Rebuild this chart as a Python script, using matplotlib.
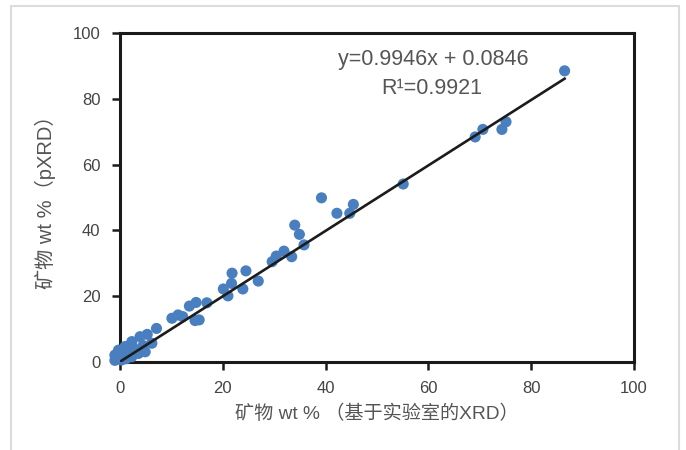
import matplotlib
matplotlib.use("Agg")
import matplotlib.pyplot as plt
from matplotlib.patches import Rectangle
import numpy as np

plt.rcParams['font.family'] = ['Liberation Sans', 'Noto Sans CJK SC', 'DejaVu Sans']

lab_xrd = [86.5, 69.1, 70.6, 74.3, 75.1, 55.1, 39.2, 42.2, 45.4, 44.7,
           34.0, 34.9, 35.8, 33.4, 31.9, 30.4, 29.6, 24.5, 21.8, 26.9,
           21.7, 20.1, 23.9, 21.0, 13.5, 14.8, 16.9, 14.6, 15.4, 11.3,
           10.1, 12.2, 7.1, 5.3, 3.9, 6.2, 2.3, 1.0, -0.3, -1.0,
           4.9, 3.6, 2.3, 0.3, -1.0, 0.5, 1.5, 2.5, 4.5, 1.2, -0.5]
pxrd = [88.5, 68.4, 70.7, 70.7, 73.0, 54.1, 49.9, 45.2, 47.9, 45.2,
        41.6, 38.8, 35.6, 32.0, 33.7, 32.2, 30.5, 27.7, 27.0, 24.6,
        23.9, 22.2, 22.2, 20.1, 17.0, 18.1, 18.0, 12.6, 12.8, 14.3,
        13.3, 13.8, 10.2, 8.4, 7.7, 5.7, 6.2, 4.7, 3.6, 2.1,
        3.1, 2.6, 1.6, 0.6, 0.5, 2.5, 3.5, 4.5, 5.0, 1.0, 1.2]

slope = 0.9946
intercept = 0.0846
eq_text = "y=0.9946x + 0.0846"
r_text = "R¹=0.9921"
xticks = [0, 20, 40, 60, 80, 100]
yticks = [0, 20, 40, 60, 80, 100]

fig = plt.figure(figsize=(6.86, 4.50), dpi=100)
fig.patches.append(Rectangle((11/686, -0.05), (679-11)/686, 1.05 - 6/450,
                             transform=fig.transFigure, fill=False,
                             edgecolor='#dcdcdc', linewidth=1.5))
ax = fig.add_axes([120/686, 1-362/450, (634-120)/686, (362-33)/450])

ax.scatter(lab_xrd, pxrd, s=64, color='#4a7fbf', edgecolors='none',
           zorder=3, clip_on=False)
fx = np.array([0, max(lab_xrd)])
ax.plot(fx, slope*fx + intercept, color='#1c1c1c', lw=1.9, zorder=4)

ax.set_xlim(0, 100)
ax.set_ylim(0, 100)
ax.set_xticks(xticks)
ax.set_yticks(yticks)
for s in ax.spines.values():
    s.set_linewidth(2.2)
    s.set_color('#1a1a1a')
ax.tick_params(axis='both', direction='out', length=6, width=1.8,
               color='#1a1a1a', labelsize=12, labelcolor='#444444', pad=8)

ax.text(60.9, 91.8, eq_text, ha='center', va='center', fontsize=15.5,
        color='#555555')
ax.text(60.6, 83.0, r_text, ha='center', va='center', fontsize=15.5,
        color='#555555')

ax.set_xlabel("矿物 wt % （基于实验室的XRD）", fontsize=13.8, color='#555555',
              labelpad=6)
ax.set_ylabel("矿物 wt %（pXRD）", fontsize=14.5, color='#555555', labelpad=12)

fig.savefig("out.png", dpi=100)
